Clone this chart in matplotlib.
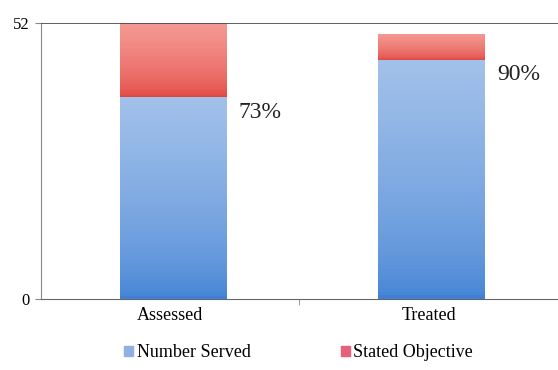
import numpy as np
import matplotlib
matplotlib.use("Agg")
from matplotlib import pyplot as plt
from matplotlib.patches import Patch

categories = ["Assessed", "Treated"]
served = [38, 45]
objective = [52, 50]
pct_labels = ["73%", "90%"]

plt.rcParams['font.family'] = ['Liberation Serif', 'DejaVu Serif']

fig = plt.figure(figsize=(5.58, 3.70), dpi=100)
ax = fig.add_axes([0.073, 0.192, 0.927, 0.746])

x = np.arange(len(categories))
remainder = [o - s for o, s in zip(objective, served)]
w = 0.41

blue_bars = ax.bar(x + 0.01, served, w, color="#6f9fe0", zorder=2)
red_bars = ax.bar(x + 0.01, remainder, w, bottom=served, color="#ec6a66", zorder=2)

# vertical gradients clipped to each bar
def shade(bars, top_col, bot_col):
    top = np.array(matplotlib.colors.to_rgb(top_col))
    bot = np.array(matplotlib.colors.to_rgb(bot_col))
    t = np.linspace(0, 1, 64)[:, None] ** 0.6
    grad = (bot * (1 - t) + top * t)[:, None, :]
    for b in bars:
        x0, y0 = b.get_x(), b.get_y()
        im = ax.imshow(grad, extent=[x0, x0 + b.get_width(), y0, y0 + b.get_height()],
                       origin="lower", aspect="auto", zorder=3)
        im.set_clip_path(b)

shade(blue_bars, "#a2c1ea", "#3f80d4")
shade(red_bars, "#f59a94", "#e2453f")

for i, lab in enumerate(pct_labels):
    ax.text(x[i] + w / 2 + 0.06, served[i] - 2.8, lab, fontsize=17, va="center", ha="left",
            color="#222222")

ax.set_xlim(-0.5, 1.5)
ax.set_ylim(0, 52)
ax.set_yticks([0, 52])
ax.set_xticks(x)
ax.set_xticklabels(categories, fontsize=13)
ax.set_xticks([0.5], minor=True)
ax.tick_params(axis="x", which="major", length=0, pad=6)
ax.tick_params(axis="x", which="minor", length=4, color="#888888")
ax.tick_params(axis="y", length=4, color="#888888", labelsize=12, pad=4)
ax.axhline(52, color="#444444", lw=1.2, zorder=4)
ax.spines["top"].set_visible(False)
ax.spines["right"].set_visible(False)
ax.spines["left"].set_color("#888888")
ax.spines["bottom"].set_color("#666666")

handles = [Patch(color="#8fb0e0", label="Number Served"),
           Patch(color="#e6607a", label="Stated Objective")]
fig.legend(handles=handles, loc="lower center", bbox_to_anchor=(0.535, -0.02), ncol=2,
           frameon=False, fontsize=13, handlelength=0.5, handleheight=0.5,
           handletextpad=0.2, columnspacing=5.0)

fig.savefig("out.png", dpi=100)
